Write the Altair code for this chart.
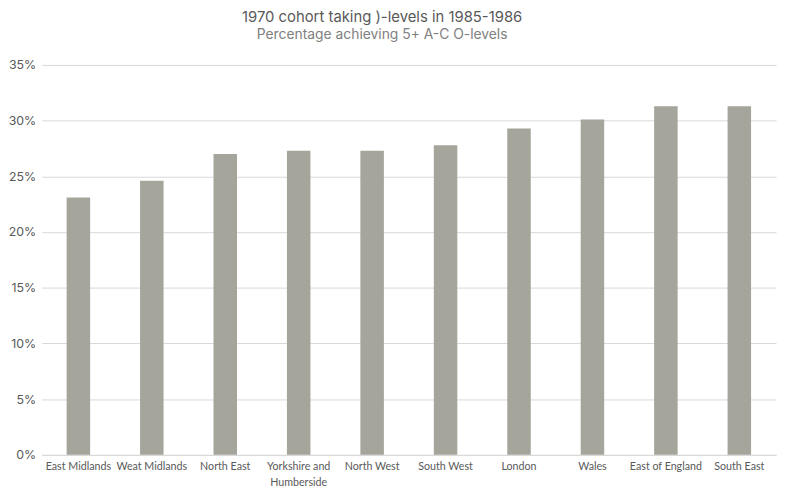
import altair as alt
import pandas as pd

regions = ["East Midlands", "Weat Midlands", "North East", "Yorkshire and Humberside",
           "North West", "South West", "London", "Wales", "East of England", "South East"]
values = [23.1, 24.6, 27.0, 27.3, 27.3, 27.8, 29.3, 30.1, 31.3, 31.3]

df = pd.DataFrame({"region": regions, "pct": [v / 100 for v in values]})

label_expr = ("datum.value == 'Yorkshire and Humberside' ? ['Yorkshire and', 'Humberside'] : datum.value")

chart = alt.Chart(df).mark_bar(color="#A5A59C").encode(
    x=alt.X("region:N", sort=regions, title=None,
            scale=alt.Scale(paddingInner=0.68, paddingOuter=0.34),
            axis=alt.Axis(labelAngle=0, labelExpr=label_expr, labelFont="Lato",
                          labelFontSize=10.8, labelColor="#595959", labelPadding=6,
                          labelLineHeight=16, ticks=False, domainColor="#d9d9d9",
                          labelBaseline="top")),
    y=alt.Y("pct:Q", title=None,
            scale=alt.Scale(domain=[0, 0.35], nice=False),
            axis=alt.Axis(format=".0%", values=[0, 0.05, 0.1, 0.15, 0.2, 0.25, 0.3, 0.35],
                          labelFont="Inter", labelFontSize=12.5, labelColor="#595959",
                          labelPadding=6, ticks=False, domain=False,
                          gridColor="#d9d9d9", gridWidth=1)),
).properties(
    width=742,
    height=394,
    autosize=alt.AutoSizeParams(type="none"),
    padding={"left": 34, "top": 55, "right": 4, "bottom": 34},
    title=alt.TitleParams(
        text="1970 cohort taking )-levels in 1985-1986",
        subtitle="Percentage achieving 5+ A-C O-levels",
        font="Inter", fontSize=15, fontWeight="normal", color="#595959",
        subtitleFont="Inter", subtitleFontSize=14, subtitleColor="#808080",
        anchor="middle", dx=-27, offset=17, subtitlePadding=3,
    ),
).configure_view(stroke=None)

chart.save("out.html", embed_options={"renderer": "svg", "actions": False})
